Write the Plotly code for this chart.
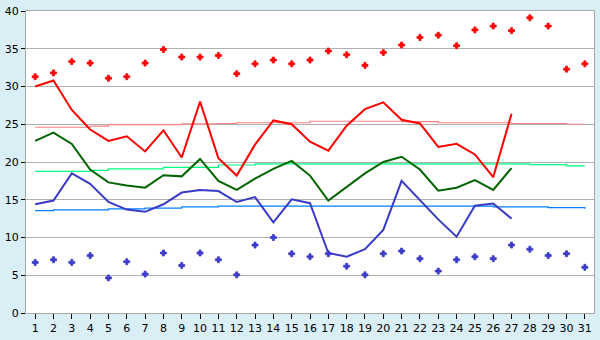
import plotly.graph_objects as go

days = list(range(1, 32))
line_days = list(range(1, 28))

red_max = [31.3, 31.8, 33.3, 33.1, 31.1, 31.3, 33.1, 34.9, 33.9, 33.9,
           34.1, 31.7, 33.0, 33.5, 33.0, 33.5, 34.7, 34.2, 32.8, 34.5,
           35.5, 36.5, 36.8, 35.4, 37.5, 38.0, 37.4, 39.1, 38.0, 32.3, 33.0]
red_line = [30.0, 30.8, 26.9, 24.3, 22.8, 23.4, 21.4, 24.2, 20.6, 28.0,
            20.5, 18.2, 22.3, 25.5, 25.0, 22.7, 21.5, 24.8, 27.0, 27.9,
            25.6, 25.1, 22.0, 22.4, 21.0, 18.0, 26.4]
red_trend = [24.6, 24.6, 24.6, 24.75, 24.95, 24.95, 24.95, 24.95, 25.05, 25.05,
             25.1, 25.2, 25.2, 25.2, 25.2, 25.4, 25.4, 25.4, 25.4, 25.4,
             25.35, 25.35, 25.2, 25.2, 25.2, 25.2, 25.1, 25.1, 25.1, 25.0, 25.0]

green_line = [22.8, 23.9, 22.4, 19.0, 17.3, 16.9, 16.6, 18.25, 18.1, 20.4,
              17.5, 16.3, 17.8, 19.1, 20.15, 18.2, 14.9, 16.7, 18.5, 20.0,
              20.7, 19.0, 16.2, 16.6, 17.6, 16.3, 19.2]
green_trend = [18.75, 18.75, 18.75, 18.9, 19.1, 19.1, 19.1, 19.3, 19.3, 19.3,
               19.6, 19.6, 19.75, 19.75, 19.75, 19.75, 19.75, 19.75, 19.75, 19.75,
               19.75, 19.75, 19.75, 19.75, 19.75, 19.75, 19.75, 19.65, 19.65, 19.5, 19.5]

blue_line = [14.4, 14.9, 18.5, 17.1, 14.7, 13.7, 13.4, 14.4, 15.95, 16.3,
             16.15, 14.7, 15.35, 12.0, 15.05, 14.55, 7.95, 7.45, 8.45, 11.0,
             17.5, 14.9, 12.4, 10.1, 14.2, 14.5, 12.5]
blue_trend = [13.55, 13.65, 13.65, 13.65, 13.8, 13.8, 13.9, 13.9, 14.05, 14.05,
              14.15, 14.15, 14.15, 14.15, 14.15, 14.15, 14.15, 14.15, 14.15, 14.15,
              14.15, 14.15, 14.15, 14.15, 14.15, 14.05, 14.05, 14.05, 13.95, 13.95, 13.8]
blue_min = [6.7, 7.05, 6.7, 7.6, 4.65, 6.8, 5.15, 7.95, 6.3, 7.95,
            7.05, 5.05, 9.0, 10.0, 7.85, 7.45, 7.85, 6.2, 5.05, 7.85,
            8.2, 7.2, 5.55, 7.05, 7.45, 7.2, 9.0, 8.45, 7.6, 7.85, 6.05]

y_ticks = [0, 5, 10, 15, 20, 25, 30, 35, 40]

fig = go.Figure()

fig.add_trace(go.Scatter(x=days, y=red_trend, mode="lines",
                         line=dict(color="#FF8080", width=1.2, shape="hv")))
fig.add_trace(go.Scatter(x=days, y=green_trend, mode="lines",
                         line=dict(color="#00FF80", width=1.2, shape="hv")))
fig.add_trace(go.Scatter(x=days, y=blue_trend, mode="lines",
                         line=dict(color="#0080FF", width=1.2, shape="hv")))

fig.add_trace(go.Scatter(x=line_days, y=green_line, mode="lines",
                         line=dict(color="#006400", width=2)))
fig.add_trace(go.Scatter(x=line_days, y=blue_line, mode="lines",
                         line=dict(color="#3A3AC8", width=2)))
fig.add_trace(go.Scatter(x=line_days, y=red_line, mode="lines",
                         line=dict(color="#FF0000", width=2)))

fig.add_trace(go.Scatter(x=days, y=red_max, mode="markers",
                         marker=dict(symbol="cross", size=5, color="#FF0000",
                                     line=dict(color="#FF0000", width=0.8))))
fig.add_trace(go.Scatter(x=days, y=blue_min, mode="markers",
                         marker=dict(symbol="cross", size=5, color="#3A3AC8",
                                     line=dict(color="#3A3AC8", width=0.8))))

fig.update_layout(
    width=600, height=340,
    margin=dict(l=20, r=5, t=5, b=20),
    paper_bgcolor="#D9EEF5",
    plot_bgcolor="#FFFFFF",
    showlegend=False,
    font=dict(family="DejaVu Sans", size=11, color="#000000"),
)
fig.update_xaxes(
    range=[0.5, 31.5], tickmode="array", tickvals=days,
    ticktext=[str(d) for d in days],
    showgrid=False, zeroline=False,
    showline=True, linecolor="#A8A8A8", linewidth=1, mirror=True,
    ticks="outside", ticklen=5, tickcolor="#000000", tickwidth=1,
    tickfont=dict(size=11), ticklabeloverflow="allow",
)
fig.update_yaxes(
    range=[0, 40], tickmode="array", tickvals=y_ticks,
    showgrid=True, gridcolor="#B0B0B0", gridwidth=1, zeroline=False,
    showline=True, linecolor="#A8A8A8", linewidth=1, mirror=True,
    ticks="outside", ticklen=4, tickcolor="#000000", tickwidth=1,
    tickfont=dict(size=11), ticklabeloverflow="allow",
)

fig.write_html("out.html")
